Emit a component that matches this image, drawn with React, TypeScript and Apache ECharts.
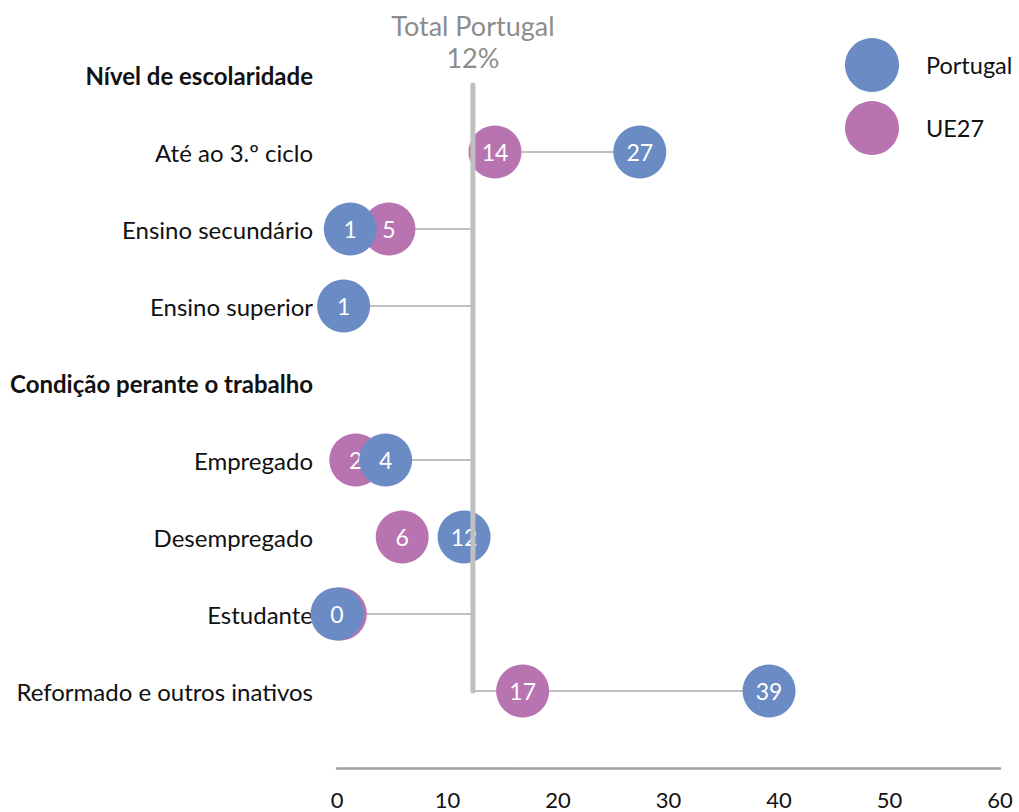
import React, { useEffect, useRef } from "react";
import * as echarts from "echarts";

const categories = [
  "Nível de escolaridade",
  "Até ao 3.º ciclo",
  "Ensino secundário",
  "Ensino superior",
  "Condição perante o trabalho",
  "Empregado",
  "Desempregado",
  "Estudante",
  "Reformado e outros inativos",
];
const headerRows = [0, 4];
const portugal: (number | null)[] = [null, 27.4, 1.2, 0.6, null, 4.4, 11.5, 0.0, 39.1];
const ue27: (number | null)[] = [null, 14.3, 4.7, null, null, 1.7, 5.9, 0.3, 16.8];
const totalPortugal = 12.3;
const totalLabel = "12%";

const BLUE = "#6B8BC4";
const PINK = "#B873B1";
const GREY = "#C0C0C0";
const FONT = "Lato";

export default function App() {
  const ref = useRef<HTMLDivElement>(null);
  useEffect(() => {
    if (!ref.current) return;
    const chart = echarts.init(ref.current, undefined, { renderer: "svg" });
    const labelFmt = (p: any) => String(Math.round(p.value[0]));
    const ptData = portugal.map((v, i) => (v === null ? null : [v, i])).filter(Boolean);
    const ueData = ue27.map((v, i) => (v === null ? null : [v, i])).filter(Boolean);
    chart.setOption({
      animation: false,
      textStyle: { fontFamily: FONT },
      grid: { left: 337, right: 19, top: 36.5, bottom: 82.5 },
      legend: {
        orient: "vertical",
        left: 845,
        top: 38,
        padding: 0,
        itemWidth: 54,
        itemHeight: 54,
        itemGap: 9,
        icon: "circle",
        textStyle: { fontSize: 23.5, color: "#111", fontFamily: FONT, padding: [0, 0, 0, 22] },
        data: ["Portugal", "UE27"],
      },
      xAxis: {
        type: "value",
        min: 0,
        max: 60,
        interval: 10,
        offset: 38.5,
        axisLine: { show: true, lineStyle: { color: "#A0A0A0", width: 2.5 } },
        axisTick: { show: false },
        splitLine: { show: false },
        axisLabel: { fontSize: 22, color: "#111", margin: 20, fontFamily: FONT },
      },
      yAxis: {
        type: "category",
        inverse: true,
        data: categories,
        axisLine: { show: false },
        axisTick: { show: false },
        splitLine: { show: false },
        axisLabel: {
          margin: 24,
          fontSize: 24,
          color: "#111",
          fontFamily: FONT,
          formatter: (v: string, i: number) => (headerRows.includes(i) ? `{b|${v}}` : v),
          rich: { b: { fontWeight: "bold", fontSize: 24, color: "#111", fontFamily: FONT } },
        },
      },
      series: [
        {
          type: "custom",
          name: "connectors",
          z: 1,
          silent: true,
          data: ptData,
          renderItem: (params: any, api: any) => {
            const row = api.value(1);
            const a = api.coord([totalPortugal, row]);
            const b = api.coord([api.value(0), row]);
            return {
              type: "line",
              shape: { x1: a[0], y1: a[1], x2: b[0], y2: b[1] },
              style: { stroke: GREY, lineWidth: 2 },
            };
          },
        },
        {
          type: "scatter",
          name: "UE27",
          z: 2,
          symbolSize: 53,
          itemStyle: { color: PINK, opacity: 1 },
          label: { show: true, position: "inside", formatter: labelFmt, color: "#fff", fontSize: 23, fontFamily: FONT },
          data: ueData,
        },
        {
          type: "scatter",
          name: "Portugal",
          z: 3,
          symbolSize: 53,
          itemStyle: { color: BLUE, opacity: 1 },
          label: { show: true, position: "inside", formatter: labelFmt, color: "#fff", fontSize: 23, fontFamily: FONT },
          data: ptData,
        },
        {
          type: "custom",
          name: "total",
          z: 4,
          silent: true,
          data: [[totalPortugal, 0]],
          renderItem: (params: any, api: any) => {
            const top = api.coord([api.value(0), 0]);
            const bottom = api.coord([api.value(0), categories.length - 1]);
            return {
              type: "group",
              children: [
                {
                  type: "line",
                  shape: { x1: top[0], y1: top[1] + 10, x2: bottom[0], y2: bottom[1] },
                  style: { stroke: GREY, lineWidth: 5, lineCap: "round" },
                },
                {
                  type: "text",
                  x: top[0],
                  y: top[1] - 50,
                  style: {
                    text: "Total Portugal",
                    fill: "#8C8C8C",
                    font: `27px ${FONT}`,
                    align: "center",
                    verticalAlign: "middle",
                  },
                },
                {
                  type: "text",
                  x: top[0],
                  y: top[1] - 18,
                  style: {
                    text: totalLabel,
                    fill: "#8C8C8C",
                    font: `27px ${FONT}`,
                    align: "center",
                    verticalAlign: "middle",
                  },
                },
              ],
            };
          },
        },
      ],
    });
    return () => chart.dispose();
  }, []);
  return <div ref={ref} style={{ width: 1019, height: 812, position: "absolute", left: 0, top: 0 }} />;
}
